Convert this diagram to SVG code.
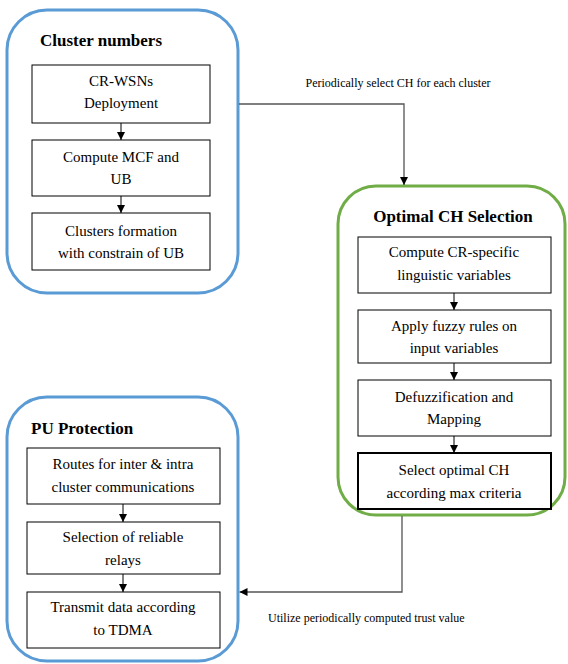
<svg xmlns="http://www.w3.org/2000/svg" width="568" height="664" viewBox="0 0 568 664" font-family="Liberation Serif, DejaVu Serif, serif">
<defs>
<style>
text{fill:#000}
.t{font-size:15px;text-anchor:middle}
.h{font-size:17px;font-weight:bold}
.l{font-size:12px}
.blue{fill:#fff;stroke:#5B9BD5;stroke-width:3}
.green{fill:#fff;stroke:#70AD47;stroke-width:3}
.box{fill:#fff;stroke:#000;stroke-width:1}
.thick{fill:#fff;stroke:#000;stroke-width:2}
.a{stroke:#000;stroke-width:1;fill:none}
.c{stroke:#555;stroke-width:1.3;fill:none}
</style>
<marker id="ah" markerWidth="8" markerHeight="8" refX="8" refY="4" orient="auto" markerUnits="userSpaceOnUse">
<path d="M0,0 L8,4 L0,8 Z" fill="#000"/>
</marker>
</defs>
<rect width="568" height="664" fill="#fff"/>

<g id="cluster-numbers">
<rect class="blue" x="7" y="10" width="231" height="283" rx="40"/>
<text class="h" x="40" y="46">Cluster numbers</text>
<g id="cr-wsns"><rect class="box" x="32" y="65" width="178" height="58"/>
<text class="t" x="121" y="86">CR-WSNs</text><text class="t" x="121" y="108">Deployment</text></g>
<g id="compute-mcf"><rect class="box" x="32" y="140" width="178" height="56"/>
<text class="t" x="121" y="162">Compute MCF and</text><text class="t" x="121" y="184">UB</text></g>
<g id="clusters-formation"><rect class="box" x="32" y="213" width="178" height="57"/>
<text class="t" x="121" y="236">Clusters formation</text><text class="t" x="121" y="258">with constrain of UB</text></g>
</g>

<g id="optimal-ch">
<rect class="green" x="338" y="186" width="227" height="329" rx="38"/>
<text class="h" x="453" y="222" text-anchor="middle">Optimal CH Selection</text>
<g id="compute-cr"><rect class="box" x="358" y="237" width="193" height="56"/>
<text class="t" x="454" y="257">Compute CR-specific</text><text class="t" x="454" y="280">linguistic variables</text></g>
<g id="fuzzy-rules"><rect class="box" x="358" y="310" width="193" height="53"/>
<text class="t" x="454" y="331">Apply fuzzy rules on</text><text class="t" x="454" y="353">input variables</text></g>
<g id="defuzz"><rect class="box" x="358" y="380" width="193" height="56"/>
<text class="t" x="454" y="402">Defuzzification and</text><text class="t" x="454" y="424">Mapping</text></g>
<g id="select-ch"><rect class="thick" x="358" y="453" width="193" height="56"/>
<text class="t" x="454" y="475">Select optimal CH</text><text class="t" x="454" y="498">according max criteria</text></g>
</g>

<g id="pu-protection">
<rect class="blue" x="7" y="397" width="231" height="264" rx="40"/>
<text class="h" x="31" y="434">PU Protection</text>
<g id="routes"><rect class="box" x="27" y="448" width="193" height="56"/>
<text class="t" x="123" y="469">Routes for inter &amp; intra</text><text class="t" x="123" y="492">cluster communications</text></g>
<g id="relays"><rect class="box" x="27" y="522" width="193" height="52"/>
<text class="t" x="123" y="542">Selection of reliable</text><text class="t" x="123" y="565">relays</text></g>
<g id="transmit"><rect class="box" x="27" y="592" width="193" height="56"/>
<text class="t" x="123" y="612">Transmit data according</text><text class="t" x="123" y="635">to TDMA</text></g>
</g>

<g id="connectors">
<line class="a" x1="121" y1="123" x2="121" y2="140" marker-end="url(#ah)"/>
<line class="a" x1="121" y1="196" x2="121" y2="213" marker-end="url(#ah)"/>
<line class="a" x1="454" y1="293" x2="454" y2="310" marker-end="url(#ah)"/>
<line class="a" x1="454" y1="363" x2="454" y2="380" marker-end="url(#ah)"/>
<line class="a" x1="454" y1="436" x2="454" y2="453" marker-end="url(#ah)"/>
<line class="a" x1="123" y1="504" x2="123" y2="522" marker-end="url(#ah)"/>
<line class="a" x1="123" y1="574" x2="123" y2="592" marker-end="url(#ah)"/>
<path class="c" d="M239,104 H404 V185" marker-end="url(#ah)"/>
<path class="c" d="M402,516 V592 H239.5" marker-end="url(#ah)"/>
<text class="l" x="398" y="87" text-anchor="middle">Periodically select CH for each cluster</text>
<text class="l" x="268" y="622">Utilize periodically computed trust value</text>
</g>
</svg>
